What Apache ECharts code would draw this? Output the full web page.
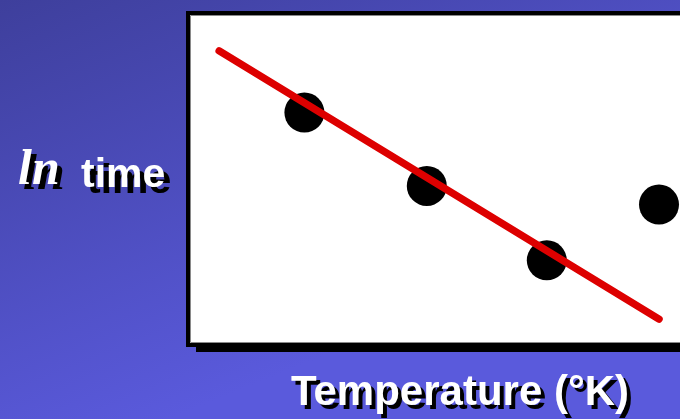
<!DOCTYPE html>
<html>
<head>
<meta charset="utf-8">
<script src="https://cdn.jsdelivr.net/npm/echarts@6/dist/echarts.min.js"></script>
<style>
html,body{margin:0;padding:0;background:#4a4ab8;}
#chart{width:680px;height:419px;}
</style>
</head>
<body>
<div id="chart"></div>
<script>
// Data (arbitrary units)
var pointsX = [1.94, 3.98, 5.98, 7.85];
var pointsY = [7.00, 4.79, 2.55, 4.23];
var fitX = [0.52, 7.85];
var fitY = [8.86, 0.78];
var xLabel = 'Temperature (°K)';
var yLabelItalic = 'ln';
var yLabelText = 'time';

var scatterData = pointsX.map(function (x, i) { return [x, pointsY[i]]; });
var fitData = fitX.map(function (x, i) { return [x, fitY[i]]; });

function shadowText(text, x, y, font, off, align) {
  return [
    { type: 'text', x: x + off, y: y + off, z: 10, silent: true,
      style: { text: text, font: font, fill: '#000', align: align, verticalAlign: 'middle' } },
    { type: 'text', x: x, y: y, z: 11, silent: true,
      style: { text: text, font: font, fill: '#fff', align: align, verticalAlign: 'middle' } }
  ];
}

var G = { left: 188, top: 13, width: 600, height: 332 };
function gridBox(extra) {
  var o = { left: G.left, top: G.top, width: G.width, height: G.height, show: true,
            outerBoundsMode: 'none', containLabel: false };
  for (var k in extra) o[k] = extra[k];
  return o;
}
function hiddenAxis(i) { return { type: 'value', min: 0, max: 10, show: false, gridIndex: i }; }

var chart = echarts.init(document.getElementById('chart'), null, { renderer: 'canvas' });
chart.setOption({
  animation: false,
  backgroundColor: new echarts.graphic.LinearGradient(0, 0, 0.25, 1, [
    { offset: 0, color: '#3e3f9c' },
    { offset: 1, color: '#5a5adc' }
  ]),
  grid: [
    gridBox({ backgroundColor: '#ffffff', borderWidth: 0,
              shadowColor: '#000000', shadowBlur: 0.01, shadowOffsetX: 8, shadowOffsetY: 7 }),
    gridBox({ backgroundColor: 'transparent', borderColor: '#000000', borderWidth: 4 }),
    gridBox({ left: G.left + 2.5, top: G.top + 2.5, width: G.width, height: G.height - 5,
              backgroundColor: 'transparent', borderColor: '#8a8a8a', borderWidth: 1 })
  ],
  xAxis: [hiddenAxis(0), hiddenAxis(1), hiddenAxis(2)],
  yAxis: [hiddenAxis(0), hiddenAxis(1), hiddenAxis(2)],
  series: [
    {
      type: 'scatter',
      xAxisIndex: 1, yAxisIndex: 1,
      data: scatterData,
      symbol: 'circle',
      symbolSize: 40,
      itemStyle: { color: '#000000', opacity: 1 },
      z: 2
    },
    {
      type: 'line',
      xAxisIndex: 1, yAxisIndex: 1,
      data: fitData,
      showSymbol: false,
      symbol: 'none',
      lineStyle: { color: '#dd0000', width: 7.5, cap: 'round' },
      z: 3
    }
  ],
  graphic: [].concat(
    shadowText(yLabelItalic, 18, 171, 'italic bold 50px "Liberation Serif"', 5, 'left'),
    shadowText(yLabelText, 81, 176, 'bold 41px "Liberation Sans"', 6, 'left'),
    shadowText(xLabel, 460, 393, 'bold 42px "Liberation Sans"', 4, 'center')
  )
});
</script>
</body>
</html>
